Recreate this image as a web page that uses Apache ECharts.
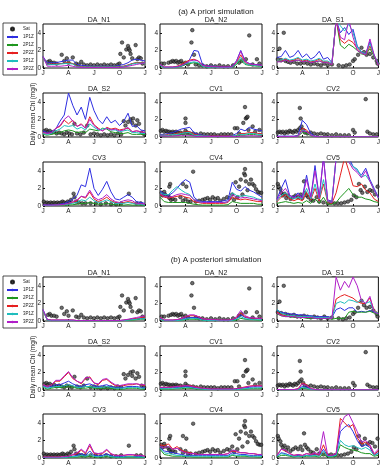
<!DOCTYPE html>
<html><head><meta charset="utf-8">
<script src="https://cdn.jsdelivr.net/npm/echarts@6/dist/echarts.min.js"></script>
<style>html,body{margin:0;padding:0;background:#fff}#c{width:383px;height:473px}</style>
</head><body><div id="c"></div>
<script>
// time axis in months (J=0 ... J=12), half-month samples
const t = [0,0.5,1,1.5,2,2.5,3,3.5,4,4.5,5,5.5,6,6.5,7,7.5,8,8.5,9,9.5,10,10.5,11,11.5,12];
const xTickLabels = {0:'J',3:'A',6:'J',9:'O',12:'J'};
const yTicks = [0,2,4];
const PANELS = ['DA_N1','DA_N2','DA_S1','DA_S2','CV1','CV2','CV3','CV4','CV5'];
const MODELS = ['1P1Z','2P1Z','2P2Z','3P1Z','3P2Z'];
const SECTION_TITLES = ['(a) A priori simulation','(b) A posteriori simulation'];
const Y_LABEL = 'Daily mean Chl (mg/l)';

// satellite observations [month, value]
const SAT_DA_N1 = [[0.6,0.7],[0.8,0.8],[1.0,0.6],[1.3,0.6],[1.6,0.5],[2.2,1.5],[2.5,0.8],[2.8,1.1],[3.0,0.6],[3.5,1.2],[3.9,0.5],[4.2,0.4],[4.5,0.7],[4.8,0.4],[5.2,0.3],[5.6,0.4],[6.0,0.3],[6.4,0.4],[6.8,0.3],[7.2,0.4],[7.6,0.3],[8.0,0.4],[8.4,0.3],[8.8,0.4],[9.0,0.5],[9.1,1.6],[9.3,2.9],[9.5,1.2],[9.8,2.1],[10.0,2.5],[10.1,2.2],[10.2,2.0],[10.3,1.6],[10.5,1.1],[10.9,2.6],[11.1,1.0],[11.3,1.2],[11.5,1.1],[11.7,0.5]];
const SAT_DA_N2 = [[0.2,0.5],[0.5,0.5],[1.0,0.6],[1.3,0.7],[1.5,0.8],[1.7,0.7],[1.9,0.8],[2.1,0.6],[2.3,0.7],[2.5,0.8],[2.7,0.5],[3.0,0.6],[3.3,0.4],[3.8,4.3],[3.7,2.9],[4.0,1.5],[4.2,0.4],[4.6,0.3],[5.0,0.3],[5.5,0.2],[6.0,0.3],[6.5,0.2],[7.0,0.3],[7.5,0.2],[8.0,0.2],[8.6,0.3],[9.3,0.6],[9.6,0.8],[10.1,1.0],[10.5,3.7],[10.9,0.4],[11.4,1.0],[11.7,0.5]];
const SAT_DA_S1 = [[0.1,1.0],[0.3,2.2],[0.8,4.0],[0.5,0.9],[1.0,0.8],[1.3,0.7],[1.6,0.6],[2.0,0.7],[2.4,0.5],[2.8,0.5],[3.2,0.6],[3.6,0.5],[4.0,0.4],[4.4,0.5],[4.8,0.4],[5.2,0.3],[5.6,0.5],[6.0,0.3],[6.5,0.4],[7.3,0.3],[7.8,0.2],[8.2,0.3],[8.6,0.4],[9.0,0.8],[9.2,1.0],[9.6,1.5],[10.0,2.3],[10.3,1.8],[10.6,1.5],[11.0,1.6],[11.4,1.2],[11.8,0.8],[11.9,0.5]];
const SAT_DA_S2 = [[0.2,0.7],[0.4,0.8],[0.6,0.6],[0.8,0.7],[1.0,0.5],[1.3,0.6],[1.6,0.4],[1.9,0.5],[2.2,0.4],[2.5,0.3],[2.8,0.5],[3.1,0.4],[3.4,0.3],[3.7,1.5],[4.0,0.4],[4.4,0.3],[4.8,0.5],[5.2,1.3],[5.6,0.3],[6.0,0.4],[6.4,0.3],[6.8,0.2],[7.2,0.3],[7.6,0.2],[8.0,0.3],[8.4,0.2],[8.8,0.4],[9.2,0.3],[9.5,1.8],[9.7,1.3],[10.0,1.7],[10.3,2.0],[10.5,1.6],[10.6,2.1],[10.9,1.3],[11.1,1.9],[11.3,1.5],[11.6,0.5],[11.9,0.3]];
const SAT_CV1 = [[0.1,0.7],[0.3,0.8],[0.5,0.6],[0.7,0.7],[0.9,0.6],[1.1,0.6],[1.3,0.5],[1.5,0.6],[1.7,0.5],[1.9,0.6],[2.1,0.5],[2.4,0.5],[2.7,0.4],[3.0,0.7],[3.0,1.6],[3.0,2.1],[3.2,0.5],[3.5,0.4],[3.9,0.4],[4.3,0.3],[4.8,0.4],[5.2,0.3],[5.6,0.3],[6.0,0.3],[6.4,0.3],[6.8,0.2],[7.2,0.3],[7.6,0.3],[8.0,0.3],[8.4,0.3],[8.8,1.0],[9.1,1.0],[9.3,0.4],[9.8,1.6],[10.0,3.4],[10.1,2.1],[10.2,2.2],[10.3,2.3],[10.4,0.8],[10.9,1.2],[11.2,0.6],[11.7,0.8]];
const SAT_CV2 = [[0.1,0.5],[0.3,0.6],[0.5,0.5],[0.7,0.6],[0.9,0.4],[1.1,0.6],[1.3,0.5],[1.5,0.7],[1.7,0.6],[1.9,0.5],[2.1,0.7],[2.3,0.6],[2.5,0.8],[2.7,3.3],[2.8,2.1],[2.7,1.0],[2.9,1.2],[3.1,0.8],[3.3,0.5],[3.6,0.4],[4.0,0.5],[4.4,0.4],[4.8,0.3],[5.2,0.4],[5.6,0.3],[6.0,0.3],[6.5,0.2],[7.0,0.3],[7.5,0.2],[8.0,0.2],[8.5,0.2],[9.0,0.8],[9.2,0.5],[10.5,4.3],[10.7,0.6],[11.0,0.4],[11.4,0.3],[11.8,0.3]];
const SAT_CV3 = [[0.1,0.5],[0.3,0.3],[0.5,0.4],[0.7,0.3],[0.9,0.4],[1.1,0.3],[1.3,0.4],[1.5,0.3],[1.7,0.4],[1.9,0.3],[2.1,0.4],[2.3,0.5],[2.5,0.4],[2.7,0.3],[2.9,0.5],[3.1,0.4],[3.3,0.7],[3.6,1.4],[3.7,1.0],[3.9,0.5],[4.2,0.4],[4.6,0.3],[5.0,0.3],[5.6,0.3],[6.2,0.3],[6.8,0.2],[7.4,0.3],[8.0,0.2],[8.6,0.2],[9.2,0.3],[10.1,1.4],[11.0,0.3],[11.5,0.3]];
const SAT_CV4 = [[0.2,1.5],[0.3,1.2],[0.5,1.6],[0.6,1.3],[1.1,2.2],[1.2,2.5],[1.0,1.1],[1.1,0.9],[1.3,0.7],[1.5,0.8],[1.8,0.7],[2.7,2.5],[2.4,1.0],[3.1,2.2],[2.7,0.6],[3.0,0.8],[3.3,0.5],[3.6,0.5],[3.9,3.9],[4.2,0.5],[4.6,0.6],[5.0,0.7],[5.3,0.8],[5.6,0.9],[5.9,0.7],[6.2,1.0],[6.5,0.8],[6.8,0.9],[7.1,0.6],[7.5,0.8],[7.9,1.0],[8.2,0.9],[8.5,1.3],[8.7,0.7],[8.9,2.7],[9.1,1.0],[9.3,2.2],[9.5,3.0],[9.7,1.3],[9.9,3.7],[10.0,4.2],[10.0,3.5],[10.1,2.8],[10.3,1.8],[10.5,2.5],[10.7,3.0],[10.9,2.5],[11.1,2.3],[11.3,1.9],[11.5,1.6],[11.7,1.5],[11.9,1.5]];
const SAT_CV5 = [[0.1,2.5],[0.2,2.2],[0.4,1.9],[0.5,1.5],[0.7,1.2],[0.9,1.4],[1.1,0.9],[1.3,1.2],[1.6,0.8],[1.9,1.0],[2.2,1.2],[2.5,1.0],[2.8,1.3],[3.0,0.9],[3.2,2.8],[3.3,1.5],[3.5,1.2],[3.7,1.0],[4.0,0.7],[4.3,0.6],[4.7,1.0],[5.0,0.5],[5.5,0.4],[6.0,0.3],[6.4,0.4],[6.8,0.3],[7.2,0.3],[7.6,0.3],[8.0,0.4],[8.4,0.5],[8.8,0.7],[9.1,1.2],[9.4,1.0],[9.7,2.5],[9.9,1.8],[10.1,1.5],[10.4,2.2],[10.7,1.6],[11.0,1.8],[11.3,1.7],[11.6,1.3],[11.9,2.2]];

// a priori model lines, order: 1P1Z, 2P1Z, 2P2Z, 3P1Z, 3P2Z
const PRI_DA_N1 = [
 [1.3,0.6,0.6,0.6,0.7,0.8,0.9,0.9,0.4,0.3,0.25,0.2,0.2,0.2,0.2,0.2,0.2,0.2,0.3,0.4,0.6,0.9,1.0,0.9,0.8],
 [1.2,0.4,0.4,0.4,0.5,0.5,0.6,0.5,0.2,0.15,0.1,0.1,0.1,0.1,0.1,0.1,0.1,0.1,0.15,0.2,0.3,0.5,0.6,0.6,0.6],
 [1.2,0.4,0.45,0.45,0.5,0.55,0.6,0.5,0.2,0.15,0.1,0.1,0.1,0.1,0.1,0.1,0.1,0.1,0.15,0.2,0.35,0.5,0.6,0.6,0.6],
 [1.2,0.35,0.4,0.4,0.45,0.5,0.5,0.45,0.15,0.1,0.1,0.1,0.1,0.1,0.1,0.1,0.1,0.1,0.1,0.15,0.3,0.45,0.55,0.55,0.55],
 [1.3,0.2,0.2,0.2,0.2,0.25,0.3,0.2,0.1,0.05,0.05,0.05,0.05,0.05,0.05,0.05,0.05,0.05,0.05,0.1,0.2,0.3,0.4,0.5,0.6]];
const PRI_DA_N2 = [
 [0.4,0.1,0.1,0.1,0.15,0.2,0.4,1.0,2.0,1.9,0.4,0.25,0.2,0.2,0.15,0.15,0.15,0.2,0.8,2.0,0.8,0.5,0.4,0.4,0.3],
 [0.3,0.05,0.05,0.05,0.1,0.2,0.4,0.5,0.6,0.5,0.2,0.1,0.1,0.1,0.05,0.05,0.05,0.1,0.4,0.9,0.4,0.3,0.25,0.2,0.2],
 [0.4,0.1,0.1,0.1,0.2,0.4,0.7,0.9,1.0,0.8,0.3,0.2,0.15,0.15,0.1,0.1,0.1,0.15,0.6,1.5,0.6,0.4,0.35,0.3,0.3],
 [0.3,0.05,0.05,0.05,0.1,0.25,0.5,0.6,0.7,0.6,0.2,0.1,0.1,0.1,0.05,0.05,0.05,0.1,0.5,1.2,0.5,0.35,0.3,0.25,0.2],
 [0.4,0.1,0.1,0.1,0.15,0.3,0.5,0.8,0.9,0.8,0.3,0.2,0.15,0.15,0.1,0.1,0.1,0.15,0.8,1.9,0.8,0.5,0.4,0.35,0.3]];
const PRI_DA_S1 = [
 [1.2,1.3,2.0,1.2,1.4,2.0,1.2,1.6,1.0,1.3,1.9,1.0,1.2,0.6,5.5,4.0,4.6,3.8,4.4,2.5,1.8,1.6,3.0,1.4,0.5],
 [0.8,0.7,0.9,0.7,0.8,0.9,0.7,0.8,0.6,0.7,0.8,0.6,0.6,0.4,5.5,2.6,2.2,2.7,2.4,2.0,1.6,1.5,2.2,1.3,0.4],
 [0.9,0.8,1.0,0.8,0.9,1.1,0.8,0.9,0.7,0.8,1.0,0.7,0.7,0.4,5.5,3.2,2.8,3.2,2.9,2.2,1.7,1.5,2.5,1.4,0.4],
 [0.9,0.9,1.1,0.9,1.0,1.2,0.9,1.0,0.8,0.9,1.1,0.8,0.8,0.5,5.5,4.8,4.2,5.0,4.0,2.4,1.8,1.6,2.8,1.4,0.5],
 [0.7,0.7,0.9,0.7,0.8,0.9,0.7,0.8,0.6,0.7,0.8,0.6,0.6,0.4,5.5,3.5,3.2,5.5,3.5,2.0,1.7,1.5,3.3,1.5,0.3]];
const PRI_DA_S2 = [
 [0.7,0.5,0.6,0.9,1.8,2.5,5.0,3.6,2.5,3.4,2.0,4.5,3.0,2.0,1.5,2.3,1.6,1.9,1.3,1.8,2.7,1.2,1.3,0.8,0.7],
 [0.3,0.2,0.3,0.4,0.5,0.7,0.8,0.7,0.5,0.6,0.5,0.9,0.8,0.7,1.0,0.9,0.6,0.5,0.4,0.4,0.5,0.3,0.3,0.3,0.3],
 [0.5,0.4,0.5,1.0,1.2,1.9,1.5,1.9,1.2,1.5,1.0,2.3,1.4,1.0,0.7,1.1,0.9,1.0,0.8,0.9,1.0,0.6,0.7,0.6,0.5],
 [0.4,0.3,0.4,0.7,0.9,1.3,1.2,1.3,0.9,1.1,0.8,1.5,1.1,0.8,0.9,1.0,0.8,0.8,0.6,0.7,0.8,0.5,0.5,0.4,0.4],
 [0.5,0.4,0.5,1.0,1.3,2.0,2.4,1.8,1.2,1.4,1.0,2.0,1.3,0.9,0.7,1.0,0.8,0.9,0.7,0.8,1.1,0.6,0.7,0.6,0.5]];
const PRI_CV1 = [
 [0.3,0.3,0.4,0.5,0.7,0.9,1.0,1.1,0.5,0.3,0.2,0.15,0.1,0.1,0.1,0.1,0.1,0.15,0.4,0.9,0.7,1.1,0.9,0.8,0.7],
 [0.1,0.1,0.15,0.2,0.2,0.3,0.3,0.3,0.15,0.1,0.05,0.05,0.05,0.05,0.05,0.05,0.05,0.05,0.1,0.2,0.2,0.3,0.3,0.2,0.2],
 [0.2,0.2,0.3,0.3,0.4,0.5,0.6,0.6,0.3,0.2,0.1,0.1,0.1,0.1,0.1,0.1,0.1,0.1,0.2,0.4,0.4,0.5,0.5,0.4,0.4],
 [0.2,0.2,0.2,0.3,0.3,0.4,0.5,0.5,0.2,0.15,0.1,0.1,0.05,0.05,0.05,0.05,0.05,0.1,0.2,0.3,0.3,0.4,0.4,0.3,0.3],
 [0.1,0.1,0.1,0.1,0.15,0.2,0.2,0.2,0.1,0.05,0.05,0.05,0.05,0.05,0.05,0.05,0.05,0.05,0.05,0.1,0.1,0.15,0.15,0.1,0.1]];
const PRI_CV2 = [
 [0.1,0.1,0.1,0.1,0.1,0.2,1.9,1.4,0.4,0.1,0.05,0.05,0.05,0.05,0.05,0.05,0.05,0.05,0.05,0.05,0.05,0.05,0.05,0.05,0.05],
 [0.05,0.05,0.05,0.05,0.05,0.1,0.5,0.4,0.15,0.05,0.03,0.03,0.03,0.03,0.03,0.03,0.03,0.03,0.03,0.03,0.03,0.03,0.03,0.03,0.03],
 [0.05,0.05,0.05,0.05,0.05,0.1,1.0,0.8,0.2,0.05,0.03,0.03,0.03,0.03,0.03,0.03,0.03,0.03,0.03,0.03,0.03,0.03,0.03,0.03,0.03],
 [0.05,0.05,0.05,0.05,0.05,0.1,0.8,0.6,0.2,0.05,0.03,0.03,0.03,0.03,0.03,0.03,0.03,0.03,0.03,0.03,0.03,0.03,0.03,0.03,0.03],
 [0.05,0.05,0.05,0.05,0.05,0.1,0.7,0.6,0.2,0.05,0.03,0.03,0.03,0.03,0.03,0.03,0.03,0.03,0.03,0.03,0.03,0.03,0.03,0.03,0.03]];
const PRI_CV3 = [
 [0.1,0.1,0.1,0.15,0.2,0.3,0.5,0.8,1.2,2.4,2.2,4.3,2.0,1.2,1.9,2.8,1.6,0.8,0.7,1.0,1.3,1.0,0.5,0.4,0.3],
 [0.05,0.05,0.05,0.05,0.05,0.1,0.1,0.15,0.2,0.3,0.3,0.4,0.3,0.2,0.2,0.3,0.2,0.15,0.1,0.1,0.15,0.1,0.1,0.1,0.05],
 [0.05,0.05,0.05,0.1,0.1,0.15,0.2,0.4,0.6,1.1,0.9,1.6,0.8,0.5,0.7,1.0,0.6,0.4,0.3,0.4,0.5,0.4,0.2,0.2,0.2],
 [0.05,0.05,0.05,0.1,0.1,0.15,0.2,0.3,0.4,0.7,0.6,1.0,0.6,0.4,0.5,0.7,0.5,0.3,0.3,0.3,0.4,0.3,0.2,0.2,0.1],
 [0.1,0.1,0.1,0.1,0.15,0.2,0.3,0.5,0.7,1.1,1.0,1.8,1.0,0.7,0.9,1.3,0.8,0.5,0.4,0.6,0.7,0.6,0.3,0.3,0.2]];
const PRI_CV4 = [
 [1.7,1.4,1.2,1.5,2.0,2.6,3.0,2.7,1.0,0.6,0.5,0.5,0.5,0.5,0.5,0.6,0.7,2.7,1.9,1.7,2.2,1.8,1.6,1.3,1.0],
 [1.0,0.5,0.4,0.4,0.4,0.4,0.4,0.3,0.2,0.15,0.1,0.1,0.1,0.1,0.1,0.1,0.15,0.5,0.4,0.3,0.3,0.3,0.3,0.2,0.2],
 [1.3,1.0,0.9,1.0,1.1,1.2,1.0,0.9,0.5,0.4,0.3,0.3,0.3,0.3,0.3,0.3,0.4,1.0,0.8,0.7,0.8,0.7,0.6,0.5,0.5],
 [1.5,1.3,1.3,1.8,2.2,1.8,1.5,1.3,0.7,0.5,0.4,0.4,0.4,0.4,0.4,0.4,0.5,1.5,1.2,1.1,1.2,1.1,1.0,0.8,0.7],
 [1.4,1.1,1.0,1.1,1.3,1.4,1.3,1.2,0.7,0.5,0.4,0.4,0.4,0.4,0.4,0.4,0.5,1.3,1.0,0.9,1.0,0.9,0.8,0.7,0.6]];
const PRI_CV5 = [
 [0.8,2.0,3.0,1.2,1.0,1.5,1.0,3.5,1.0,4.6,1.0,5.5,0.7,0.5,5.5,5.5,5.5,5.5,4.5,4.0,3.5,4.3,3.0,2.0,1.0],
 [0.3,0.4,0.5,0.4,0.3,0.4,0.3,0.6,0.3,0.8,0.3,1.0,0.2,0.2,0.4,1.0,1.5,2.0,1.3,1.0,1.0,0.8,0.7,0.5,0.4],
 [0.5,1.0,1.3,0.8,0.6,0.8,0.6,1.5,0.7,2.0,0.6,2.5,0.4,0.3,1.5,3.5,5.5,4.0,2.3,2.2,2.5,1.8,1.5,0.8,0.5],
 [0.6,1.2,1.5,1.0,0.8,1.0,0.8,2.0,0.8,2.5,0.8,3.0,0.5,0.4,5.5,5.5,5.5,5.0,4.5,4.2,3.3,3.5,2.8,1.8,0.9],
 [0.7,1.5,2.0,1.2,0.9,1.3,0.9,3.0,1.0,4.0,0.9,5.5,0.6,0.4,5.5,5.5,5.5,5.0,4.2,3.8,3.2,4.0,2.8,1.8,0.9]];

// a posteriori model lines, order: 1P1Z, 2P1Z, 2P2Z, 3P1Z, 3P2Z
const POS_DA_N1 = [
 [1.3,0.2,0.1,0.1,0.1,0.1,0.1,0.1,0.05,0.05,0.05,0.05,0.05,0.05,0.05,0.05,0.05,0.05,0.05,0.1,0.15,0.2,0.25,0.3,0.3],
 [1.2,0.1,0.05,0.05,0.05,0.05,0.05,0.05,0.03,0.03,0.03,0.03,0.03,0.03,0.03,0.03,0.03,0.03,0.03,0.05,0.08,0.1,0.15,0.2,0.2],
 [1.2,0.15,0.1,0.1,0.1,0.1,0.1,0.1,0.05,0.05,0.05,0.05,0.05,0.05,0.05,0.05,0.05,0.05,0.05,0.1,0.15,0.25,0.3,0.4,0.45],
 [1.2,0.1,0.05,0.05,0.05,0.05,0.05,0.05,0.03,0.03,0.03,0.03,0.03,0.03,0.03,0.03,0.03,0.03,0.03,0.05,0.1,0.15,0.2,0.25,0.25],
 [1.3,0.15,0.1,0.1,0.1,0.1,0.1,0.1,0.05,0.05,0.05,0.05,0.05,0.05,0.05,0.05,0.05,0.05,0.05,0.1,0.2,0.3,0.4,0.5,0.6]];
const POS_DA_N2 = [
 [0.3,0.1,0.1,0.1,0.1,0.15,0.3,0.4,0.4,0.35,0.2,0.15,0.1,0.1,0.1,0.1,0.1,0.1,0.3,0.7,0.4,0.3,0.3,0.3,0.2],
 [0.2,0.05,0.05,0.05,0.05,0.1,0.15,0.2,0.2,0.2,0.1,0.05,0.05,0.05,0.05,0.05,0.05,0.05,0.1,0.3,0.2,0.15,0.15,0.1,0.1],
 [0.4,0.1,0.1,0.1,0.15,0.3,0.5,0.6,0.6,0.5,0.25,0.2,0.15,0.15,0.1,0.1,0.1,0.15,0.4,0.9,0.5,0.35,0.3,0.3,0.3],
 [0.2,0.05,0.05,0.05,0.05,0.1,0.2,0.3,0.3,0.25,0.1,0.05,0.05,0.05,0.05,0.05,0.05,0.05,0.2,0.5,0.25,0.2,0.15,0.15,0.1],
 [0.4,0.1,0.1,0.1,0.15,0.3,0.5,0.7,0.7,0.5,0.25,0.2,0.15,0.15,0.1,0.1,0.1,0.15,0.5,1.2,0.6,0.4,0.35,0.3,0.3]];
const POS_DA_S1 = [
 [1.2,1.0,0.9,0.8,0.8,0.7,0.7,0.6,0.6,0.5,0.5,0.5,0.5,0.4,1.3,1.5,1.2,1.5,1.5,1.0,1.1,1.0,1.2,1.0,0.8],
 [0.8,0.6,0.5,0.5,0.4,0.4,0.4,0.3,0.3,0.3,0.3,0.3,0.3,0.2,0.3,0.3,0.3,1.0,1.1,1.0,1.0,1.0,1.1,0.9,0.7],
 [1.0,0.7,0.6,0.6,0.5,0.5,0.5,0.4,0.4,0.4,0.4,0.4,0.4,0.3,2.5,2.8,3.0,2.8,2.6,2.2,2.0,2.0,2.6,1.2,0.9],
 [1.3,0.9,0.7,0.6,0.6,0.5,0.5,0.5,0.5,0.4,0.4,0.4,0.4,0.3,2.0,2.2,2.0,2.4,2.3,2.1,2.4,2.0,2.2,1.1,0.9],
 [0.9,0.6,0.5,0.5,0.5,0.4,0.4,0.4,0.4,0.3,0.3,0.3,0.3,0.3,5.0,3.5,4.5,3.8,5.0,4.0,2.3,2.0,2.8,1.0,0.8]];
const POS_DA_S2 = [
 [0.5,0.3,0.4,0.6,0.6,0.8,1.0,0.7,0.5,0.4,0.6,0.7,0.5,0.4,0.5,0.6,0.4,0.3,0.3,0.3,0.4,0.4,0.4,0.3,0.3],
 [0.3,0.1,0.2,0.3,0.3,0.3,0.4,0.3,0.2,0.2,0.2,0.3,0.2,0.2,0.2,0.2,0.2,0.1,0.1,0.1,0.2,0.2,0.2,0.1,0.1],
 [0.6,0.4,0.6,1.0,1.0,1.5,2.0,1.3,1.0,0.7,1.3,1.5,0.8,0.6,1.1,1.2,0.8,0.5,0.5,0.5,0.6,0.6,0.7,0.6,0.5],
 [0.4,0.2,0.3,0.4,0.4,0.5,0.6,0.5,0.3,0.3,0.4,0.4,0.3,0.3,0.3,0.4,0.3,0.2,0.2,0.2,0.3,0.3,0.3,0.2,0.2],
 [0.6,0.4,0.6,1.1,1.1,1.6,2.1,1.4,1.0,0.8,1.4,1.4,0.8,0.7,1.2,1.3,0.9,0.6,0.5,0.6,0.7,0.7,0.7,0.6,0.6]];
const POS_CV1 = [
 [0.2,0.2,0.25,0.3,0.3,0.35,0.4,0.4,0.3,0.2,0.15,0.1,0.1,0.1,0.1,0.1,0.1,0.1,0.1,0.2,0.25,0.3,0.35,0.35,0.35],
 [0.1,0.1,0.1,0.1,0.15,0.15,0.2,0.2,0.15,0.1,0.05,0.05,0.05,0.05,0.05,0.05,0.05,0.05,0.05,0.1,0.1,0.15,0.15,0.15,0.15],
 [0.3,0.3,0.3,0.35,0.4,0.45,0.5,0.5,0.4,0.3,0.2,0.15,0.1,0.1,0.1,0.1,0.1,0.1,0.15,0.25,0.35,0.45,0.5,0.5,0.5],
 [0.15,0.15,0.15,0.2,0.2,0.25,0.3,0.3,0.2,0.15,0.1,0.05,0.05,0.05,0.05,0.05,0.05,0.05,0.05,0.1,0.15,0.2,0.25,0.25,0.25],
 [0.3,0.3,0.3,0.35,0.4,0.45,0.5,0.45,0.35,0.25,0.2,0.15,0.1,0.1,0.1,0.1,0.1,0.1,0.15,0.2,0.3,0.4,0.45,0.45,0.45]];
const POS_CV2 = [
 [0.05,0.05,0.05,0.05,0.05,0.1,0.4,0.3,0.1,0.05,0.03,0.03,0.03,0.03,0.03,0.03,0.03,0.03,0.03,0.03,0.03,0.03,0.03,0.03,0.03],
 [0.03,0.03,0.03,0.03,0.03,0.05,0.2,0.15,0.05,0.03,0.02,0.02,0.02,0.02,0.02,0.02,0.02,0.02,0.02,0.02,0.02,0.02,0.02,0.02,0.02],
 [0.05,0.05,0.05,0.05,0.05,0.15,0.8,0.6,0.15,0.05,0.03,0.03,0.03,0.03,0.03,0.03,0.03,0.03,0.03,0.03,0.03,0.03,0.03,0.03,0.03],
 [0.03,0.03,0.03,0.03,0.03,0.05,0.3,0.2,0.05,0.03,0.02,0.02,0.02,0.02,0.02,0.02,0.02,0.02,0.02,0.02,0.02,0.02,0.02,0.02,0.02],
 [0.05,0.05,0.05,0.05,0.05,0.1,0.7,0.5,0.15,0.05,0.03,0.03,0.03,0.03,0.03,0.03,0.03,0.03,0.03,0.03,0.03,0.03,0.03,0.03,0.03]];
const POS_CV3 = [
 [0.05,0.05,0.05,0.05,0.05,0.1,0.1,0.2,0.3,0.5,0.3,0.8,0.3,0.25,0.3,0.5,0.25,0.15,0.15,0.15,0.2,0.2,0.15,0.15,0.1],
 [0.03,0.03,0.03,0.03,0.03,0.05,0.05,0.1,0.1,0.15,0.1,0.2,0.1,0.1,0.1,0.15,0.1,0.05,0.05,0.05,0.1,0.1,0.05,0.05,0.05],
 [0.1,0.1,0.1,0.1,0.1,0.15,0.2,0.35,0.5,0.9,0.5,1.4,0.5,0.45,0.5,0.9,0.45,0.3,0.3,0.3,0.35,0.35,0.3,0.3,0.2],
 [0.05,0.05,0.05,0.05,0.05,0.05,0.1,0.15,0.2,0.3,0.2,0.4,0.2,0.15,0.2,0.3,0.15,0.1,0.1,0.1,0.15,0.15,0.1,0.1,0.1],
 [0.1,0.1,0.1,0.1,0.1,0.15,0.2,0.4,0.6,1.0,0.6,1.6,0.6,0.5,0.6,1.0,0.5,0.3,0.3,0.3,0.4,0.4,0.3,0.3,0.2]];
const POS_CV4 = [
 [1.2,0.8,0.7,0.6,0.5,0.4,0.3,0.3,0.3,0.3,0.3,0.3,0.3,0.3,0.3,0.3,0.3,0.6,0.5,0.4,0.4,0.3,0.3,0.3,0.3],
 [1.0,0.4,0.3,0.2,0.2,0.2,0.15,0.15,0.1,0.1,0.1,0.1,0.1,0.1,0.1,0.1,0.1,0.3,0.2,0.2,0.2,0.15,0.15,0.1,0.1],
 [1.5,1.4,1.6,1.0,1.3,0.9,0.7,0.6,0.5,0.4,0.4,0.4,0.4,0.4,0.4,0.4,0.5,0.8,0.7,0.6,0.6,0.5,0.5,0.4,0.4],
 [1.1,0.6,0.5,0.4,0.3,0.3,0.2,0.2,0.2,0.2,0.2,0.2,0.2,0.2,0.2,0.2,0.2,0.4,0.3,0.3,0.3,0.2,0.2,0.2,0.2],
 [1.3,1.2,1.3,1.0,1.1,0.8,0.6,0.5,0.5,0.4,0.4,0.4,0.4,0.4,0.4,0.4,0.5,0.9,0.8,0.6,0.6,0.5,0.5,0.4,0.4]];
const POS_CV5 = [
 [0.2,0.6,0.5,0.3,0.2,0.3,0.2,0.3,0.3,0.4,0.3,1.0,0.2,0.2,0.4,3.0,3.5,3.8,3.0,2.0,1.3,1.5,1.2,0.3,0.6],
 [0.1,0.3,0.3,0.2,0.1,0.2,0.1,0.2,0.2,0.2,0.1,0.4,0.1,0.1,0.2,1.5,1.2,1.0,0.9,0.8,0.6,0.5,0.5,0.2,0.3],
 [0.3,1.0,0.8,0.5,0.3,0.4,0.3,0.5,0.4,0.5,0.3,1.5,0.3,0.3,0.5,4.5,4.0,3.5,3.8,2.3,1.6,1.8,1.4,0.4,0.8],
 [0.2,0.5,0.4,0.3,0.2,0.2,0.2,0.3,0.2,0.3,0.2,0.8,0.2,0.2,0.3,2.0,1.5,1.3,1.4,1.2,1.0,1.2,0.9,0.3,0.5],
 [0.3,1.0,0.9,0.5,0.3,0.4,0.3,0.5,0.4,0.6,0.4,3.0,0.3,0.3,0.5,3.7,4.7,5.0,4.0,3.0,1.8,2.0,1.5,0.5,1.0]];

const SAT = {DA_N1:SAT_DA_N1,DA_N2:SAT_DA_N2,DA_S1:SAT_DA_S1,DA_S2:SAT_DA_S2,CV1:SAT_CV1,CV2:SAT_CV2,CV3:SAT_CV3,CV4:SAT_CV4,CV5:SAT_CV5};
const PRI = {DA_N1:PRI_DA_N1,DA_N2:PRI_DA_N2,DA_S1:PRI_DA_S1,DA_S2:PRI_DA_S2,CV1:PRI_CV1,CV2:PRI_CV2,CV3:PRI_CV3,CV4:PRI_CV4,CV5:PRI_CV5};
const POS = {DA_N1:POS_DA_N1,DA_N2:POS_DA_N2,DA_S1:POS_DA_S1,DA_S2:POS_DA_S2,CV1:POS_CV1,CV2:POS_CV2,CV3:POS_CV3,CV4:POS_CV4,CV5:POS_CV5};

// layout / style
const COLORS = ['#2e2ee0','#1e961e','#e62020','#1fbdbd','#b01ec8'];
const COL_LEFT = [43,160,277];
const ROW_TOP = [24,93,162,277,346,414];
const GW = 102, GH = 44;
const FONT = '"Liberation Sans", Arial, sans-serif';

const grids=[], xAxes=[], yAxes=[], titles=[], series=[];
titles.push({text:SECTION_TITLES[0],left:211,top:3,textAlign:'center',textStyle:{fontSize:8,fontWeight:'normal',color:'#222',fontFamily:FONT}});
titles.push({text:SECTION_TITLES[1],left:211,top:251,textAlign:'center',textStyle:{fontSize:8,fontWeight:'normal',color:'#222',fontFamily:FONT}});
[PRI,POS].forEach((set,s)=>{
  PANELS.forEach((name,p)=>{
    const gi = grids.length;
    const row = Math.floor(p/3), col = p%3;
    const top = ROW_TOP[s*3+row], left = COL_LEFT[col];
    grids.push({left:left,top:top,width:GW,height:GH,show:true,borderColor:'#111',borderWidth:1,backgroundColor:'transparent'});
    titles.push({text:name,left:left+GW/2,top:top-12,textAlign:'center',textStyle:{fontSize:7,fontWeight:'normal',color:'#222',fontFamily:FONT}});
    xAxes.push({type:'value',gridIndex:gi,min:0,max:12,interval:3,
      axisLine:{show:false},splitLine:{show:false},
      axisTick:{inside:true,length:2,lineStyle:{color:'#111'}},
      axisLabel:{fontSize:6.5,margin:2,color:'#222',fontFamily:FONT,formatter:v=>xTickLabels[v]||''}});
    yAxes.push({type:'value',gridIndex:gi,min:0,max:5,interval:2,
      axisLine:{show:false},splitLine:{show:false},
      axisTick:{inside:true,length:2,lineStyle:{color:'#111'}},
      axisLabel:{fontSize:6.5,margin:2,color:'#222',fontFamily:FONT,showMaxLabel:false,formatter:v=>yTicks.includes(v)?String(v):''}});
    series.push({name:'Sat',type:'scatter',xAxisIndex:gi,yAxisIndex:gi,data:SAT[name],symbol:'circle',symbolSize:3.6,
      itemStyle:{color:'#4a4a4a',borderColor:'#000',borderWidth:0.6},z:2,silent:true});
    MODELS.forEach((m,k)=>{
      series.push({name:m,type:'line',xAxisIndex:gi,yAxisIndex:gi,symbol:'none',showSymbol:false,
        data:t.map((x,i)=>[x,set[name][k][i]]),
        lineStyle:{width:1,color:COLORS[k]},itemStyle:{color:COLORS[k]},z:3+k,silent:true,animation:false});
    });
  });
});

const legendBase = {orient:'vertical',left:3,itemWidth:11,itemHeight:3,itemGap:2,padding:[3,3,3,3],
  borderColor:'#222',borderWidth:0.8,backgroundColor:'#fff',
  textStyle:{fontSize:4.5,color:'#222',fontFamily:FONT,lineHeight:6},
  data:['Sat'].concat(MODELS)};

const chart = echarts.init(document.getElementById('c'),null,{renderer:'canvas'});
chart.setOption({
  animation:false,
  title:titles,
  grid:grids, xAxis:xAxes, yAxis:yAxes, series:series,
  legend:[Object.assign({top:23},legendBase),Object.assign({top:276},legendBase)],
  graphic:[
    {type:'text',x:33,y:114,rotation:Math.PI/2,style:{text:Y_LABEL,fontSize:6.5,fill:'#222',fontFamily:FONT,align:'center',verticalAlign:'middle'}},
    {type:'text',x:33,y:367,rotation:Math.PI/2,style:{text:Y_LABEL,fontSize:6.5,fill:'#222',fontFamily:FONT,align:'center',verticalAlign:'middle'}}
  ]
});
</script></body></html>
